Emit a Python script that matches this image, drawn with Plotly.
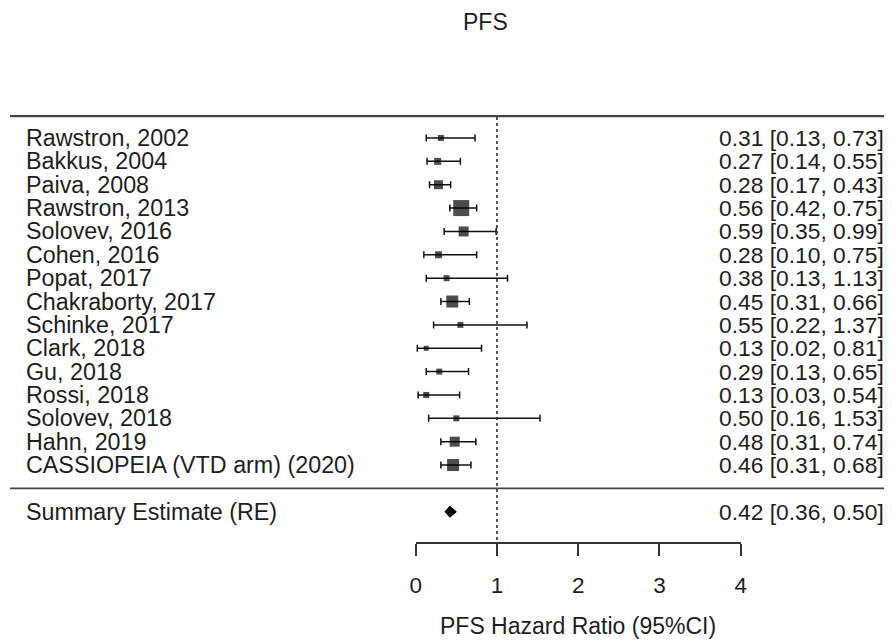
import plotly.graph_objects as go

# ---- data ----
studies = ["Rawstron, 2002", "Bakkus, 2004", "Paiva, 2008", "Rawstron, 2013",
           "Solovev, 2016", "Cohen, 2016", "Popat, 2017", "Chakraborty, 2017",
           "Schinke, 2017", "Clark, 2018", "Gu, 2018", "Rossi, 2018",
           "Solovev, 2018", "Hahn, 2019", "CASSIOPEIA (VTD arm) (2020)"]
hr = [0.31, 0.27, 0.28, 0.56, 0.59, 0.28, 0.38, 0.45, 0.55, 0.13, 0.29, 0.13, 0.50, 0.48, 0.46]
ci_lo = [0.13, 0.14, 0.17, 0.42, 0.35, 0.10, 0.13, 0.31, 0.22, 0.02, 0.13, 0.03, 0.16, 0.31, 0.31]
ci_hi = [0.73, 0.55, 0.43, 0.75, 0.99, 0.75, 1.13, 0.66, 1.37, 0.81, 0.65, 0.54, 1.53, 0.74, 0.68]
summary_label = "Summary Estimate (RE)"
summary_hr = 0.42
summary_lo = 0.36
summary_hi = 0.50
x_ticks = [0, 1, 2, 3, 4]
title_text = "PFS"
x_title = "PFS Hazard Ratio (95%CI)"

# ---- style ----
box_px = [6, 7, 9, 16, 10, 7, 6, 12, 6, 5, 6, 6, 6, 10, 12]
FONT = "Arial, Liberation Sans, sans-serif"
TXT = "#1e1e1e"
LINE = "#333333"
OFF = 8                      # page body margin offset
W, H = 892 - OFF, 644 - OFF
row_px = 23.36
first_row_px = 138.0 - OFF
n = len(studies)
rows = [n - i for i in range(n)]          # 15 .. 1
summary_row = -1
y_max = n + first_row_px / row_px
y_min = n - (H - first_row_px) / row_px
axis_row = n - (542.7 - OFF - first_row_px) / row_px


def paper_y(v):
    return (v - y_min) / (y_max - y_min)


def px_x(p):
    return (p - OFF) / W


def px_y(p):
    return 1 - (p - OFF) / H


x_dom = [px_x(415.7), px_x(740.7)]

fig = go.Figure()

# study estimates with CI
fig.add_trace(go.Scatter(
    x=hr, y=rows, mode="markers",
    marker=dict(symbol="square", size=box_px, color="black", line=dict(width=0)),
    error_x=dict(type="data", symmetric=False,
                 array=[h - e for h, e in zip(ci_hi, hr)],
                 arrayminus=[e - l for e, l in zip(hr, ci_lo)],
                 color="#111111", thickness=1.5, width=3.5),
    cliponaxis=False, showlegend=False, hoverinfo="skip"))

# summary diamond
dh = 0.235
fig.add_trace(go.Scatter(
    x=[summary_lo, summary_hr, summary_hi, summary_hr, summary_lo],
    y=[summary_row, summary_row + dh, summary_row, summary_row - dh, summary_row],
    mode="lines", fill="toself", fillcolor="black",
    line=dict(color="black", width=1), cliponaxis=False,
    showlegend=False, hoverinfo="skip"))

shapes = []
# horizontal separators
for yy, lw in [(n + 1 - 0.06, 2.2), (0, 1.8)]:
    shapes.append(dict(type="line", xref="paper", yref="y",
                       x0=px_x(10), x1=1.0, y0=yy, y1=yy,
                       line=dict(color="#444444", width=lw)))
# reference line at HR = 1
shapes.append(dict(type="line", xref="x", yref="y", x0=1, x1=1,
                   y0=n + 1 - 0.1, y1=axis_row,
                   line=dict(color="#222222", width=1.5, dash="dot")))

LSIZE = 23.3
RSIZE = 22.8
ann = []
for s, r, h, l, u in zip(studies, rows, hr, ci_lo, ci_hi):
    ann.append(dict(x=px_x(24), xref="paper", y=r, yref="y", text=s,
                    xanchor="left", yanchor="middle", showarrow=False,
                    font=dict(family=FONT, size=LSIZE, color=TXT)))
    ann.append(dict(x=px_x(886), xref="paper", y=r, yref="y",
                    text=f"{h:.2f} [{l:.2f}, {u:.2f}]",
                    xanchor="right", yanchor="middle", showarrow=False,
                    font=dict(family=FONT, size=RSIZE, color=TXT)))
ann.append(dict(x=px_x(24), xref="paper", y=summary_row, yref="y", text=summary_label,
                xanchor="left", yanchor="middle", showarrow=False,
                font=dict(family=FONT, size=LSIZE, color=TXT)))
ann.append(dict(x=px_x(886), xref="paper", y=summary_row, yref="y",
                text=f"{summary_hr:.2f} [{summary_lo:.2f}, {summary_hi:.2f}]",
                xanchor="right", yanchor="middle", showarrow=False,
                font=dict(family=FONT, size=RSIZE, color=TXT)))
ann.append(dict(x=px_x(485), xref="paper", y=px_y(22), yref="paper", text=title_text,
                xanchor="center", yanchor="middle", showarrow=False,
                font=dict(family=FONT, size=23, color=TXT)))
ann.append(dict(x=2, xref="x", y=px_y(626), yref="paper",
                text=x_title, xanchor="center", yanchor="middle", showarrow=False,
                font=dict(family=FONT, size=23, color=TXT)))

fig.update_layout(
    width=W, height=H, template="none",
    margin=dict(l=0, r=0, t=0, b=0, pad=0),
    paper_bgcolor="white", plot_bgcolor="rgba(0,0,0,0)",
    showlegend=False,
    xaxis=dict(domain=x_dom, range=[0, 4], anchor="free",
               position=paper_y(axis_row), automargin=False,
               showgrid=False, zeroline=False,
               showline=True, linecolor=LINE, linewidth=2,
               ticks="outside", ticklen=12, tickwidth=2, tickcolor=LINE,
               tickvals=x_ticks, ticktext=[str(t) for t in x_ticks],
               ticklabelstandoff=10,
               tickfont=dict(family=FONT, size=22.5, color=TXT)),
    yaxis=dict(domain=[0, 1], range=[y_min, y_max], visible=False,
               automargin=False, showgrid=False, zeroline=False),
    shapes=shapes, annotations=ann,
)

fig.write_html("out.html")
